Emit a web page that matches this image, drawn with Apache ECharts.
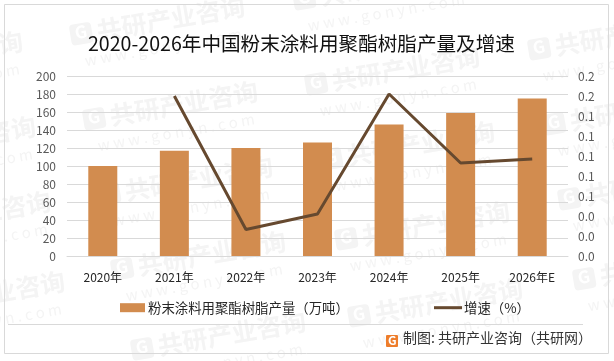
<!DOCTYPE html>
<html>
<head>
<meta charset="utf-8">
<style>
  html, body { margin: 0; padding: 0; background: #fff; }
  #main { width: 614px; height: 361px; }
</style>
<script src="https://cdn.jsdelivr.net/npm/echarts@6/dist/echarts.min.js"></script>
</head>
<body>
<div id="main"></div>
<script>
var categories = ['2020年', '2021年', '2022年', '2023年', '2024年', '2025年', '2026年E'];
var output = [100, 117, 120, 126, 146, 159, 175];
var growth = [null, 0.16, 0.0265, 0.042, 0.162, 0.093, 0.097];
var barName = '粉末涂料用聚酯树脂产量（万吨）';
var lineName = '增速（%）';

var font = '"Noto Sans CJK SC", "Noto Sans", sans-serif';

// background watermark anchors
var marks = [
  [-150, 80], [72, 45], [295, 10], [530, 60],
  [-137, 165], [85, 130], [307, 95], [545, 135],
  [-122, 240], [100, 205], [322, 170], [560, 210],
  [-108, 320], [113, 280], [337, 250], [575, 290],
  [133, 360], [350, 327]
];

function watermark(p) {
  var color = '#f4f4f4';
  return {
    type: 'group', x: p[0], y: p[1], rotation: 0.17, silent: true,
    children: [
      { type: 'rect', z: -1, shape: { x: 0, y: -20, width: 22, height: 21, r: 4 }, style: { fill: color } },
      { type: 'text', z: -1, x: 5, y: -20, style: { text: 'G', fill: '#fff', font: 'bold 17px ' + font } },
      { type: 'text', z: -1, x: 27, y: -22, style: { text: '共研产业咨询', fill: color, font: 'bold 25px ' + font } },
      { type: 'text', z: -1, x: 10, y: 10, style: { text: 'w w w . g o n y n . c o m', fill: color, font: '15px ' + font } }
    ]
  };
}

var chart = echarts.init(document.getElementById('main'));
chart.setOption({
  animation: false,
  backgroundColor: '#fff',
  title: {
    text: '2020-2026年中国粉末涂料用聚酯树脂产量及增速',
    left: 83,
    top: 29,
    textStyle: { color: '#111', fontSize: 19.6, fontWeight: 'normal', fontFamily: font }
  },
  grid: { left: 67, right: 46, top: 76, bottom: 105 },
  legend: [
    {
      data: [barName], left: 115, top: 296, icon: 'rect', itemWidth: 25, itemHeight: 9, itemGap: 3,
      textStyle: { color: '#262626', fontSize: 13.4, fontFamily: font, padding: [0, 0, 0, -2] }
    },
    {
      data: [lineName], left: 429, top: 296, icon: 'rect', itemWidth: 28, itemHeight: 3, itemGap: 2,
      textStyle: { color: '#262626', fontSize: 13.4, fontFamily: font, padding: [0, 0, 0, -3] }
    }
  ],
  xAxis: {
    type: 'category',
    data: categories,
    axisLine: { lineStyle: { color: '#d9d9d9', width: 1 } },
    axisTick: { show: false },
    axisLabel: { color: '#262626', fontSize: 12, margin: 15, fontFamily: font }
  },
  yAxis: [
    {
      type: 'value', min: 0, max: 200, interval: 20,
      axisLine: { show: false }, axisTick: { show: false },
      axisLabel: { color: '#595959', fontSize: 12, margin: 11, fontFamily: font },
      splitLine: { lineStyle: { color: '#d9d9d9', width: 1 } }
    },
    {
      type: 'value', min: 0, max: 0.18, interval: 0.02,
      axisLine: { show: false }, axisTick: { show: false },
      axisLabel: {
        color: '#595959', fontSize: 12, margin: 10, fontFamily: font,
        formatter: function (v) { return v.toFixed(1); }
      },
      splitLine: { show: false }
    }
  ],
  series: [
    { name: barName, type: 'bar', data: output, barWidth: 29, itemStyle: { color: '#d28c4f' } },
    {
      name: lineName, type: 'line', yAxisIndex: 1, data: growth,
      symbol: 'none', connectNulls: false,
      lineStyle: { color: '#66492f', width: 3 },
      itemStyle: { color: '#66492f' }
    }
  ],
  graphic: marks.map(watermark).concat([
    { type: 'rect', silent: true, shape: { x: 4.5, y: 4.5, width: 604, height: 349 }, style: { fill: 'none', stroke: '#d9d9d9', lineWidth: 1 } },
    { type: 'line', silent: true, shape: { x1: 8, y1: 324.5, x2: 583, y2: 324.5 }, style: { stroke: '#d9d9d9', lineWidth: 1 } },
    { type: 'rect', silent: true, shape: { x: 386, y: 335, width: 12, height: 12, r: 1 }, style: { fill: '#ee7d2b' } },
    { type: 'text', silent: true, x: 388, y: 334, style: { text: 'G', fill: '#fff', font: 'bold 12px ' + font } },
    { type: 'text', silent: true, x: 403, y: 331, style: { text: '制图: 共研产业咨询（共研网）', fill: '#333', font: '14px ' + font } }
  ])
});
</script>
</body>
</html>
